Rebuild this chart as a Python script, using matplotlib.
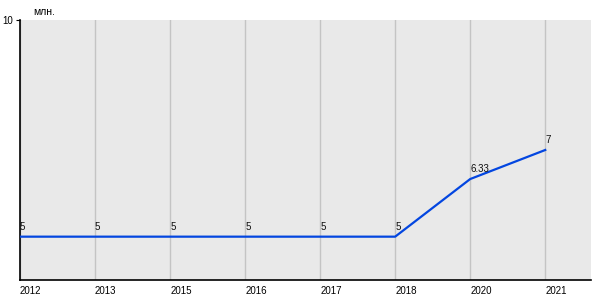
import matplotlib
matplotlib.use("Agg")
import matplotlib.pyplot as plt

years = ["2012", "2013", "2015", "2016", "2017", "2018", "2020", "2021"]
values = [5, 5, 5, 5, 5, 5, 6.33, 7]
unit = "млн."
ymin, ymax = 4, 10

plt.rcParams['font.family'] = ['Liberation Sans', 'DejaVu Sans']

fig = plt.figure(figsize=(6, 3), dpi=100)
ax = fig.add_axes([20/600, 20/300, 571/600, 260/300])
ax.set_facecolor("#e9e9e9")
x = list(range(len(years)))
ax.plot(x, values, color="#0346e0", lw=1.6, zorder=3)
for xi, v in zip(x, values):
    lab = f"{v:g}"
    ax.annotate(lab, (xi, v), xytext=(0, 3.5), textcoords="offset points",
                ha="left", va="bottom", fontsize=7, color="#111111")
ax.set_xlim(0, 7.61)
ax.set_ylim(ymin, ymax)
ax.set_xticks(x)
ax.set_xticklabels(years, ha="left", fontsize=7)
ax.tick_params(axis="x", length=0, pad=4)
ax.set_yticks([ymax])
ax.set_yticklabels([str(ymax)], fontsize=7)
ax.tick_params(axis="y", length=3, pad=2)
ax.grid(axis="x", color="#c4c4c4", lw=1)
ax.set_axisbelow(True)
for s in ["top", "right"]:
    ax.spines[s].set_visible(False)
for s in ["left", "bottom"]:
    ax.spines[s].set_color("black")
    ax.spines[s].set_linewidth(1.2)
fig.text(33/600, 1 - 12/300, unit, fontsize=7.5, va="center", ha="left")
fig.savefig("out.png", dpi=100)
